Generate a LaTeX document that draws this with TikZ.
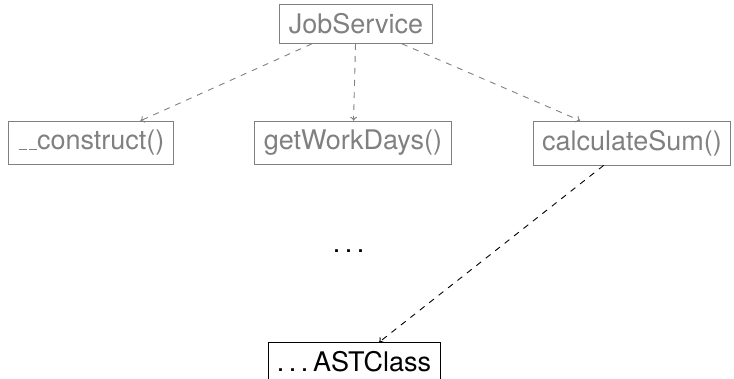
\documentclass[tikz,border=0pt]{standalone}
\usepackage{fontspec}
\setmainfont{TeX Gyre Heros}
\usetikzlibrary{arrows.meta}
\newcommand{\ul}{\leavevmode\kern.06em\vbox{\hrule width.3em height.9pt}}
\newcommand{\spdots}{.\kern.1667em.\kern.1667em.\kern.1667em}
\begin{document}
\begin{tikzpicture}[x=1pt,y=-1pt,
  box/.style={draw,line width=.9pt,inner sep=9pt,font=\fontsize{27}{32}\selectfont},
  call/.style={-{To[length=4pt,width=7pt]},line width=.9pt,dash pattern=on 6pt off 6pt}]
      \useasboundingbox (0,0) rectangle (734,378);
      \clip (0,0) rectangle (734,378);
      \node[box,gray] (job) at (356,24) {JobService};
      \node[box,gray] (cons) at (91,143) {\ul\ul construct()};
      \node[box,gray] (days) at (353,143) {getWorkDays()};
      \node[box,gray] (sum) at (632,143) {calculateSum()};
      \node[font=\fontsize{27}{32}\selectfont] (more) at (351,251) {\spdots};
      \node[box] (ast) at (354,362) {\spdots ASTClass};
      \draw[call,gray] (job) -- (cons);
      \draw[call,gray] (job) -- (days);
      \draw[call,gray] (job) -- (sum);
      \draw[call] (sum) -- (ast);
\end{tikzpicture}
\end{document}
